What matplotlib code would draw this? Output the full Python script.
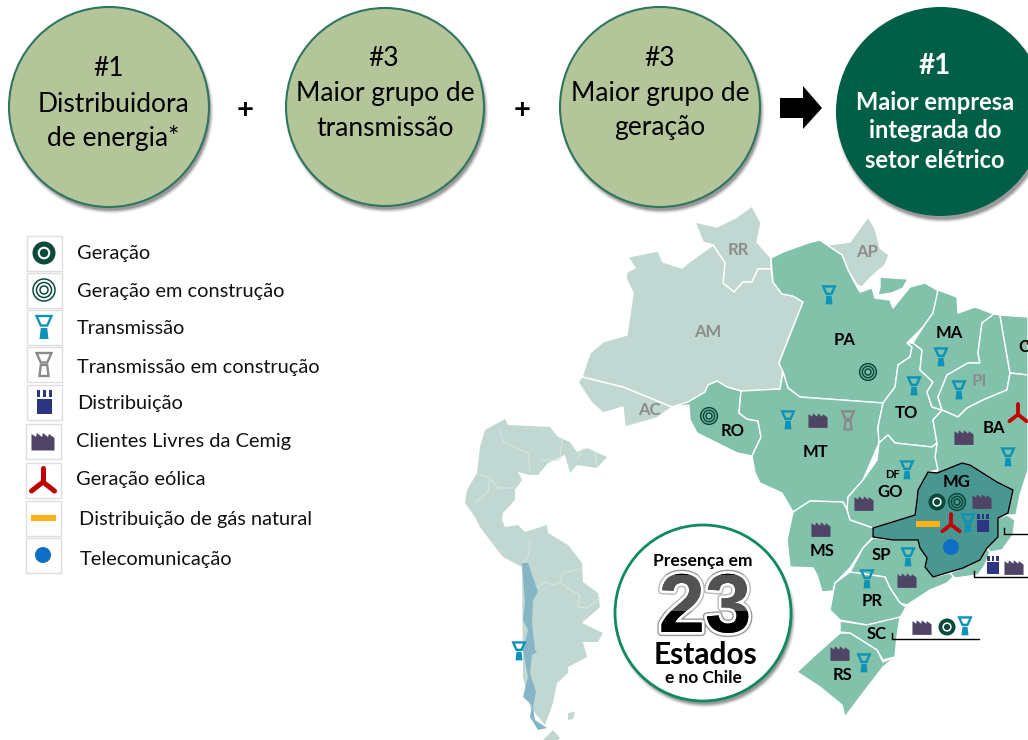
import matplotlib
matplotlib.use('Agg')
import matplotlib.pyplot as plt
from matplotlib.patches import Circle, Polygon, Rectangle
import matplotlib.patheffects as pe

plt.rcParams['font.family'] = ['Lato', 'DejaVu Sans']

# outlines, in image pixels
RR = [(695,222),(717,227),(737,217),(752,206),(761,223),(757,242),(771,258),(771,269),(758,269),(752,282),(743,282),(734,292),(723,283),(725,263),(713,245),(703,242)]
AM = [(628,257),(648,253),(658,251),(663,262),(682,268),(688,263),(713,245),(725,263),(723,283),(734,292),(743,282),(752,282),(758,269),(771,269),(773,282),(782,294),(793,296),(803,302),(779,363),(783,370),(780,389),(741,391),(727,387),(717,381),(708,385),(705,392),(688,402),(672,407),(623,387),(582,377),(590,353),(603,342),(627,335),(633,293),(626,278),(627,272),(635,268)]
AC = [(578,382),(582,377),(623,387),(672,407),(657,418),(625,427),(623,407),(603,413),(592,403),(585,393)]
AP = [(827,245),(850,242),(868,217),(875,228),(880,248),(889,255),(885,265),(870,278),(862,287),(857,285),(848,270),(842,255)]
RO = [(672,407),(688,402),(705,392),(708,385),(717,381),(727,387),(741,391),(739,413),(747,419),(758,421),(761,437),(752,456),(737,453),(717,443),(697,433),(690,420),(689,405)]
PA = [(771,258),(783,252),(808,243),(820,240),(827,245),(842,255),(848,270),(857,287),(860,292),(872,288),(875,298),(890,300),(893,308),(910,287),(925,283),(937,290),(938,293),(933,313),(923,327),(907,343),(912,347),(910,357),(898,365),(895,387),(883,403),(800,397),(788,388),(783,372),(779,363),(803,302),(793,296),(782,294),(773,282)]
MARAJO = [(880,277),(908,279),(903,288),(892,293),(878,295),(880,287)]
MT = [(741,391),(780,389),(783,372),(788,388),(800,397),(883,403),(878,427),(879,443),(863,480),(848,497),(847,510),(843,502),(810,501),(793,512),(782,493),(760,483),(755,473),(752,456),(761,437),(758,421),(747,419),(739,413)]
TO = [(907,343),(912,347),(910,357),(898,365),(895,387),(883,403),(878,427),(879,443),(888,435),(895,443),(932,447),(937,443),(933,420),(942,410),(932,407),(927,392),(933,382),(920,370),(922,350),(913,343)]
MA = [(938,290),(957,297),(958,313),(975,307),(994,314),(982,323),(978,353),(980,363),(968,363),(947,375),(938,397),(942,410),(932,407),(927,392),(933,382),(920,370),(922,350),(913,343),(923,327),(933,313)]
PI = [(994,314),(1000,315),(1003,333),(1010,373),(1007,390),(1002,392),(983,400),(967,408),(958,417),(942,410),(938,397),(947,375),(968,363),(980,363),(978,353),(982,323)]
CE = [(1000,315),(1028,317),(1028,375),(1010,373),(1003,333)]
BA = [(942,410),(958,417),(967,408),(983,400),(1002,392),(1007,390),(1010,373),(1028,375),(1028,470),(1020,495),(1016,515),(1007,515),(998,518),(1008,513),(1013,490),(997,482),(970,465),(962,463),(937,473),(935,457),(937,443),(933,420)]
GO = [(847,510),(848,497),(863,480),(877,460),(879,443),(888,435),(895,443),(932,447),(937,443),(935,457),(938,470),(928,472),(918,490),(917,500),(915,515),(873,528),(850,520)]
MS = [(793,512),(810,501),(843,502),(847,510),(850,520),(873,528),(873,537),(863,548),(850,568),(835,583),(833,591),(822,592),(817,575),(813,568),(790,567),(787,540)]
SP = [(873,538),(893,540),(918,540),(920,548),(927,558),(925,567),(933,577),(950,573),(955,575),(947,583),(930,590),(907,605),(900,603),(890,588),(885,577),(850,572),(863,548)]
RJ = [(950,573),(963,568),(980,560),(987,548),(990,552),(985,565),(978,575),(955,578)]
ES = [(998,518),(1007,515),(1015,520),(1013,535),(1002,550),(990,552),(987,548),(998,537)]
PR = [(850,572),(885,577),(890,588),(900,603),(906,607),(900,618),(867,625),(840,620),(830,610),(835,583)]
SC = [(840,621),(867,625),(900,617),(897,637),(895,657),(883,660),(877,650),(850,633),(840,632)]
RS = [(840,633),(850,633),(877,650),(883,662),(895,657),(883,667),(863,693),(845,717),(842,705),(820,687),(797,672),(813,657)]
MG = [(918,490),(928,472),(937,473),(962,463),(970,465),(997,482),(1013,490),(1008,513),(998,518),(998,537),(987,548),(980,560),(963,568),(933,577),(925,567),(927,558),(920,548),(918,540),(893,540),(873,537),(873,528),(915,515),(917,500)]
SOUTH_AMERICA = [(485,430),(505,419),(508,425),(550,427),(558,437),(570,442),(577,452),(587,448),(607,457),(597,468),(577,465),(570,473),(565,455),(548,463),(538,475),(530,475),(518,472),(522,480),(515,490),(515,500),(503,513),(502,520),(505,527),(518,525),(525,532),(547,525),(548,533),(568,545),(582,563),(583,582),(598,593),(600,607),(582,623),(603,633),(598,642),(583,642),(587,657),(568,667),(568,673),(557,683),(553,703),(545,725),(530,707),(523,677),(522,567),(503,557),(492,543),(480,527),(475,517),(465,503),(467,490),(477,473),(480,447)]
TIERRA = [(543,740),(553,730),(560,738),(558,740)]
ISLAND = [(568,713),(575,712),(573,719),(568,720)]
CHILE = [(522,563),(528,563),(538,592),(533,600),(532,623),(535,650),(537,652),(532,655),(530,673),(536,692),(533,707),(535,720),(547,728),(538,730),(530,717),(532,705),(523,697),(528,677),(523,650),(528,630),(523,620),(525,602)]
SA_BORDERS = [
    [(500,430),(503,442),(528,453),(530,470)],
    [(542,460),(560,460),(562,438)],
    [(577,460),(583,449)],
    [(595,453),(597,467)],
    [(480,475),(490,478),(498,488),(515,488)],
    [(490,478),(488,492),(475,503)],
    [(530,542),(528,557),(522,563)],
    [(538,587),(545,582),(553,585),(560,582),(570,590),(580,595),(578,607),(587,608),(600,598)],
    [(560,582),(563,573),(580,569)],
    [(585,618),(582,623)],
]
active_states = [PA, MARAJO, RO, MT, TO, MA, PI, CE, BA, GO, MS, SP, RJ, ES, PR, SC, RS]
other_states = [RR, AM, AC, AP]

state_names = ['RR','AP','AM','AC','PA','MA','CE','PI','TO','RO','MT','BA','GO','DF','MG','MS','SP','PR','SC','RS']
state_x = [738,867,708,649,845,949,1029,979,906,733,815,994,890,892,957,822,881,872,877,843]
state_y = [250,252,332,410,340,333,347,381,413,431,452,428,492,475,482,551,555,601,634,675]
grey_names = ['RR','AP','AM','AC','PI']

legend_labels = ['Geração','Geração em construção','Transmissão','Transmissão em construção','Distribuição','Clientes Livres da Cemig','Geração eólica','Distribuição de gás natural','Telecomunicação']
legend_kinds = ['gen','genc','trans','transc','dist','client','wind','gas','tele']
legend_box_x = [44,44,44,44,44,43,43,43,43]
legend_box_y = [253,290,327,364,402,441,480,518,555]
legend_text_x = [77,77,77,77,77,76,76,79,80]
legend_text_y = [254,291,328,367,404,442,479,519,560]

map_icons = [
    ('trans',829,295),('genc',868,372),('trans',941,357),('trans',914,386),('trans',959,390),
    ('genc',709,416),('trans',788,420),('client',818,420),('transc',848,420),
    ('client',964,437),('wind',1018,413),('wind',1037,335),('trans',1008,457),
    ('client',864,503),('trans',907,470),('gen',937,502),('genc',957,502),('client',982,501),
    ('gas',928,524),('wind',951,523),('trans',968,523),('dist',983,523),('tele',951,547),
    ('client',821,529),('trans',908,557),('client',907,580),('trans',867,579),
    ('dist',993,565),('client',1014,567),('client',922,627),('gen',947,627),('trans',965,626),
    ('client',840,653),('trans',864,663),('trans',519,651),
]
leaders = [[(1004,528),(1004,534),(1028,534)],[(974,571),(974,577),(1028,577)],[(892,633),(892,639),(979,639)]]

bubble_x = [109,385,660,940.5]
bubble_y = [107,107,107,111.5]
bubble_r = [100,99,100,104.5]
bubble_lines = [
    [('#1',109,69),('Distribuidora',113,104),('de energia*',113,138)],
    [('#3',384,58),('Maior grupo de',385,94),('transmissão',385,128)],
    [('#3',660,58),('Maior grupo de',660,94),('geração',660,128)],
]
final_lines = [('Maior empresa',935,102),('integrada do',935,131),('setor elétrico',935,160)]
plus_x = [245,522]
arrow = [(780,98),(803,98),(803,86),(822,108),(803,129),(803,118),(780,118)]

GREEN = '#82C2AB'
PALE = '#C1D8D2'
TEAL = '#0E93B8'
DARK = '#0B4A3A'

fig = plt.figure(figsize=(10.28, 7.4), dpi=100)
ax = fig.add_axes([0, 0, 1, 1])
ax.set_xlim(0, 1028)
ax.set_ylim(740, 0)
ax.axis('off')


def circle_shadow(x, y, r, z):
    for i, a in enumerate([0.06, 0.09, 0.13, 0.18]):
        ax.add_patch(Circle((x + 2, y + 4), r + 2.5 - i, fc='black', ec='none', alpha=a, zorder=z))


def draw_gen(x, y, s):
    ax.add_patch(Circle((x, y), 11.5*s, fc=DARK, ec='none', zorder=6))
    ax.add_patch(Circle((x, y), 6.3*s, fc='white', ec='none', zorder=6))
    ax.add_patch(Circle((x, y), 4.2*s, fc=DARK, ec='none', zorder=6))


def draw_genc(x, y, s):
    for r in [11, 7.5, 4]:
        ax.add_patch(Circle((x, y), r*s, fc='none', ec=DARK, lw=1.1, zorder=6))


def draw_trans(x, y, s, col=TEAL, hollow=False):
    lw = 1.7
    top = [(x-7.5*s,y-11*s),(x+7.5*s,y-11*s),(x+3.2*s,y-1.5*s),(x-3.2*s,y-1.5*s)]
    ax.add_patch(Polygon(top, closed=True, fc='none', ec=col, lw=lw, zorder=6))
    stem = [(x-3.2*s,y+1*s),(x+3.2*s,y+1*s),(x+4.5*s,y+12*s),(x-4.5*s,y+12*s)]
    if hollow:
        ax.add_patch(Polygon(stem, closed=True, fc='none', ec=col, lw=lw, zorder=6))
    else:
        ax.add_patch(Polygon(stem, closed=True, fc=col, ec='none', zorder=6))


def draw_dist(x, y, s):
    col = '#2B3580'
    ax.add_patch(Rectangle((x-7.5*s, y-3.5*s), 15*s, 15.5*s, fc=col, ec='none', zorder=6))
    for dx in [-7.5, -1.5, 4.5]:
        ax.add_patch(Rectangle((x+dx*s, y-12*s), 3*s, 6.5*s, fc=col, ec='none', zorder=6))


def draw_client(x, y, s):
    col = '#4F4465'
    pts = [(-11.5,9.5),(-11.5,-7),(-7,-4),(-6,-8),(-1,-4),(0,-8),(5,-4),(6,-7),(11.5,-3),(11.5,9.5)]
    ax.add_patch(Polygon([(x+a*s, y+b*s) for a, b in pts], closed=True, fc=col, ec='none', zorder=6))


def draw_wind(x, y, s):
    col = '#C00000'
    y = y + 2*s
    for a, b in [(0,-14),(-11.5,9),(11.5,9)]:
        ax.plot([x, x+a*s], [y, y+b*s], color=col, lw=3.6*s, solid_capstyle='round', zorder=6)


def draw_gas(x, y, s):
    ax.add_patch(Rectangle((x-12.5*s, y-3), 25*s, 6, fc='#FFB116', ec='none', zorder=6))


def draw_tele(x, y, s):
    ax.add_patch(Circle((x, y), 8*s, fc='#0F6FC6', ec='none', zorder=6))


def draw_icon(kind, x, y, on_map):
    if kind == 'gen':
        draw_gen(x, y, 0.74 if on_map else 1)
    elif kind == 'genc':
        draw_genc(x, y, 0.76 if on_map else 1)
    elif kind == 'trans':
        draw_trans(x, y, 0.78 if on_map else 1)
    elif kind == 'transc':
        draw_trans(x, y, 0.78 if on_map else 1, col='#8A8A8A', hollow=True)
    elif kind == 'dist':
        draw_dist(x, y, 0.77 if on_map else 1)
    elif kind == 'client':
        draw_client(x, y, 0.83 if on_map else 1)
    elif kind == 'wind':
        draw_wind(x, y, 0.75 if on_map else 1)
    elif kind == 'gas':
        draw_gas(x, y, 0.93 if on_map else 1)
    elif kind == 'tele':
        draw_tele(x, y, 1)


# top row
for i in range(3):
    circle_shadow(bubble_x[i], bubble_y[i], bubble_r[i], 7)
    ax.add_patch(Circle((bubble_x[i], bubble_y[i]), bubble_r[i], fc='#B4C59A', ec='#2F7560', lw=1.5, zorder=8))
    for txt, x, y in bubble_lines[i]:
        ax.text(x, y, txt, ha='center', va='center', fontsize=19, color='black', zorder=9)
circle_shadow(bubble_x[3], bubble_y[3], bubble_r[3], 7)
ax.add_patch(Circle((bubble_x[3], bubble_y[3]), bubble_r[3], fc='#005F46', ec='none', zorder=8))
ax.text(935, 66, '#1', ha='center', va='center', fontsize=20, fontweight='bold', color='white', zorder=9)
for txt, x, y in final_lines:
    ax.text(x, y, txt, ha='center', va='center', fontsize=17, fontweight='bold', color='white', zorder=9)
for x in plus_x:
    ax.text(x, 110, '+', ha='center', va='center', fontsize=21, fontweight='bold', color='black')
ax.add_patch(Polygon(arrow, closed=True, fc='black', ec='none'))

# legend
for i in range(len(legend_labels)):
    ax.add_patch(Rectangle((legend_box_x[i]-17.5, legend_box_y[i]-17.5), 35, 35, fc='white', ec='#DEDEDE', lw=1))
    draw_icon(legend_kinds[i], legend_box_x[i], legend_box_y[i], False)
    ax.text(legend_text_x[i], legend_text_y[i], legend_labels[i], ha='left', va='center', fontsize=14.4, color='#111111')

# south america and chile
ax.add_patch(Polygon(SOUTH_AMERICA, closed=True, fc=PALE, ec='none', zorder=1))
ax.add_patch(Polygon(TIERRA, closed=True, fc=PALE, ec='none', zorder=1))
ax.add_patch(Polygon(ISLAND, closed=True, fc=PALE, ec='none', zorder=1))
for line in SA_BORDERS:
    ax.plot([p[0] for p in line], [p[1] for p in line], color='#D6E5E1', lw=0.8, zorder=2)
ax.add_patch(Polygon(CHILE, closed=True, fc='#86B6C6', ec='none', zorder=2))

# brazil
for st in other_states:
    ax.add_patch(Polygon(st, closed=True, fc=PALE, ec='white', lw=1, zorder=3))
for st in active_states:
    ax.add_patch(Polygon(st, closed=True, fc=GREEN, ec='white', lw=1, zorder=3))
ax.add_patch(Polygon(MG, closed=True, fc='#4A9690', ec='black', lw=1, zorder=4))

for line in leaders:
    ax.plot([p[0] for p in line], [p[1] for p in line], color='black', lw=1, zorder=5)

for kind, x, y in map_icons:
    draw_icon(kind, x, y, True)

for name, x, y in zip(state_names, state_x, state_y):
    col = '#8C8C8C' if name in grey_names else 'black'
    size = 8 if name == 'DF' else 12
    ax.text(x, y, name, ha='center', va='center', fontsize=size, fontweight='bold', color=col, zorder=7)

# badge
circle_shadow(703, 613, 88, 8)
ax.add_patch(Circle((703, 613), 88, fc='white', ec='#0E8A5F', lw=2, zorder=9))
ax.text(703, 561, 'Presença em', ha='center', va='center', fontsize=12.6, fontweight='bold', color='black', zorder=10)
ax.text(705, 610, '23', ha='center', va='center', fontsize=60, fontweight='bold', color='black',
        family='Liberation Sans', zorder=10,
        path_effects=[pe.withStroke(linewidth=6, foreground='#999999'), pe.withStroke(linewidth=4, foreground='white'), pe.Normal()])
# upper half of the number is lighter
ax.add_patch(Rectangle((650, 575), 110, 36, fc='white', ec='none', alpha=0.33, zorder=11))
ax.text(706, 655, 'Estados', ha='center', va='center', fontsize=21.5, fontweight='bold', color='black', zorder=10)
ax.text(703, 678, 'e no Chile', ha='center', va='center', fontsize=12.4, fontweight='bold', color='black', zorder=10)

fig.savefig('out.png', dpi=100)
